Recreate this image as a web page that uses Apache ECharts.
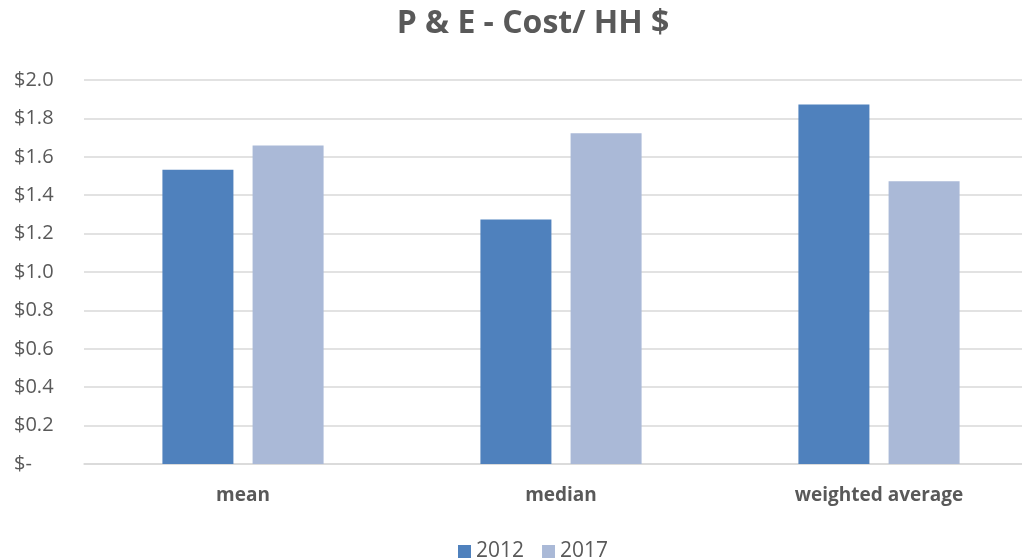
<!DOCTYPE html>
<html>
<head>
<meta charset="utf-8">
<script src="https://cdn.jsdelivr.net/npm/echarts@6/dist/echarts.min.js"></script>
<style>html,body{margin:0;padding:0;background:#fff;}#chart{width:1022px;height:560px;}</style>
</head>
<body>
<div id="chart"></div>
<script>
var titleText = 'P & E - Cost/ HH $';
var categories = ['mean', 'median', 'weighted average'];
var seriesNames = ['2012', '2017'];
var values2012 = [1.532, 1.274, 1.872];
var values2017 = [1.659, 1.723, 1.473];
var yTicks = [0, 0.2, 0.4, 0.6, 0.8, 1.0, 1.2, 1.4, 1.6, 1.8, 2.0];

var FONT = '"Open Sans", sans-serif';
var chart = echarts.init(document.getElementById('chart'));
chart.setOption({
  animation: false,
  backgroundColor: '#ffffff',
  title: {
    text: titleText,
    left: 528,
    textAlign: 'center',
    top: 3,
    textStyle: { fontFamily: FONT, fontSize: 32, fontWeight: 'bold', color: '#595959' }
  },
  legend: {
    data: seriesNames,
    top: 536,
    left: 453,
    itemWidth: 13,
    itemHeight: 13,
    itemGap: 18,
    icon: 'rect',
    textStyle: { fontFamily: FONT, fontSize: 21, color: '#595959' }
  },
  grid: { left: 84, width: 954, top: 80, height: 384, containLabel: false, outerBoundsMode: 'none' },
  xAxis: {
    type: 'category',
    data: categories,
    axisLine: { lineStyle: { color: '#d9d9d9', width: 1.5 } },
    axisTick: { show: false },
    axisLabel: { fontFamily: FONT, fontSize: 19, fontWeight: 'bold', color: '#595959', margin: 22 }
  },
  yAxis: {
    type: 'value',
    min: 0,
    max: 2,
    interval: 0.2,
    axisLine: { show: false },
    axisTick: { show: false },
    splitLine: { lineStyle: { color: '#d9d9d9', width: 1.5 } },
    axisLabel: {
      fontFamily: FONT, fontSize: 20, color: '#595959', margin: 70, align: 'left',
      formatter: function (v) {
        if (Math.abs(v) < 1e-9) return '$-';
        return '$' + v.toFixed(1);
      }
    }
  },
  series: [
    { name: seriesNames[0], type: 'bar', data: values2012, barWidth: 71, barGap: '27%',
      itemStyle: { color: '#4f81bd' } },
    { name: seriesNames[1], type: 'bar', data: values2017, barWidth: 71, barGap: '27%',
      itemStyle: { color: '#aab9d7' } }
  ]
});
</script>
</body>
</html>
